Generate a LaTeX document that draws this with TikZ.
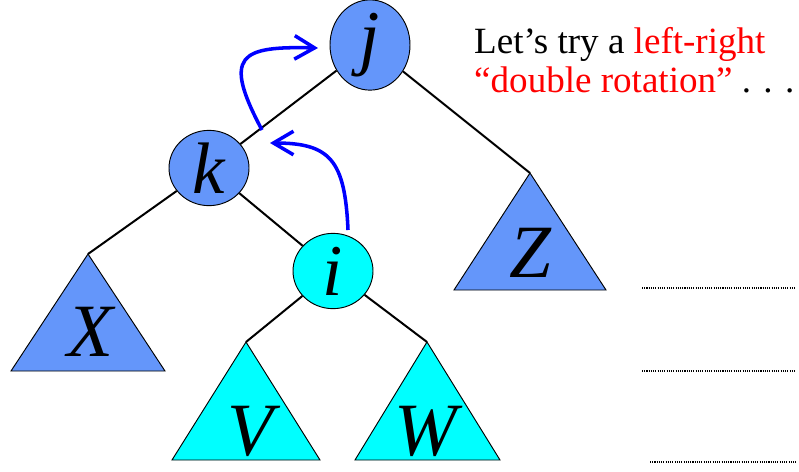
\documentclass[tikz,border=0pt]{standalone}
\usepackage{fontspec}
\setmainfont{Liberation Serif}
\usetikzlibrary{arrows.meta,shapes.geometric}
\definecolor{nodeblue}{RGB}{100,150,250}
\definecolor{nodecyan}{RGB}{0,255,255}
\definecolor{rotblue}{RGB}{0,0,255}

\begin{document}
\begin{tikzpicture}[
  x=0.85pt, y=-0.85pt,
  vtx/.style={draw, ellipse, line width=0.8pt, inner sep=0pt, minimum width=68pt, minimum height=64pt, fill=nodeblue, font=\fontsize{62}{62}\selectfont\itshape},
  tri/.style={draw, line width=0.8pt, fill=nodeblue},
  sub/.style={inner sep=0pt, font=\fontsize{64}{64}\selectfont\itshape},
  edge/.style={line width=1.7pt},
  rot/.style={-{Straight Barb[length=17pt,width=20pt]}, line width=3pt, draw=rotblue},
  dotline/.style={densely dotted, line width=0.9pt},
]
  \useasboundingbox (0,0) rectangle (799,471);

  % subtrees (apex coordinates, then the triangles)
  \coordinate (Xt) at (88,254);
  \coordinate (Zt) at (530,173);
  \coordinate (Vt) at (246,342);
  \coordinate (Wt) at (427,342);
  \draw[tri] (Xt) -- ++(-77,117) -- ++(154,0) -- cycle;
  \draw[tri] (Zt) -- ++(-76,117) -- ++(152,0) -- cycle;
  \draw[tri, fill=nodecyan] (Vt) -- ++(-74,118) -- ++(148,0) -- cycle;
  \draw[tri, fill=nodecyan] (Wt) -- ++(-72,118) -- ++(145,0) -- cycle;
  \node[sub] (X) at (90,332) {X};
  \node[sub] (Z) at (530,253) {Z};
  \node[sub] (V) at (250,431) {V};
  \node[sub] (W) at (426,431) {W};

  % tree nodes
  \node[vtx] (j) at (370,45) {j};
  \node[vtx] (k) at (209,168) {k};
  \node[vtx, fill=nodecyan] (i) at (333,271) {i};

  \draw[edge] (j) -- (k);
  \draw[edge] (j) -- (Zt);
  \draw[edge] (k) -- (Xt);
  \draw[edge] (k) -- (i);
  \draw[edge] (i) -- (Vt);
  \draw[edge] (i) -- (Wt);

  % rotation arrows
  \coordinate (r1a) at (262,130);
  \coordinate (r1b) at (318,48);
  \coordinate (r2a) at (348,230);
  \coordinate (r2b) at (270,143);
  \draw[rot] (r1a) .. controls (222,55) and (240,46) .. (r1b);
  \draw[rot] (r2a) .. controls (345,160) and (330,143) .. (r2b);

  % caption
  \node[anchor=north west, align=left, inner sep=0pt, font=\fontsize{31.5}{33}\selectfont] (note) at (474,27)
    {Let’s try a \textcolor{red}{left-right}\\\textcolor{red}{“double rotation”} . . .};

  % blank lines
  \coordinate (d1a) at (642,288); \coordinate (d1b) at (795,288);
  \coordinate (d2a) at (642,371); \coordinate (d2b) at (795,371);
  \coordinate (d3a) at (650,462); \coordinate (d3b) at (797,462);
  \draw[dotline] (d1a) -- (d1b);
  \draw[dotline] (d2a) -- (d2b);
  \draw[dotline] (d3a) -- (d3b);
\end{tikzpicture}
\end{document}
